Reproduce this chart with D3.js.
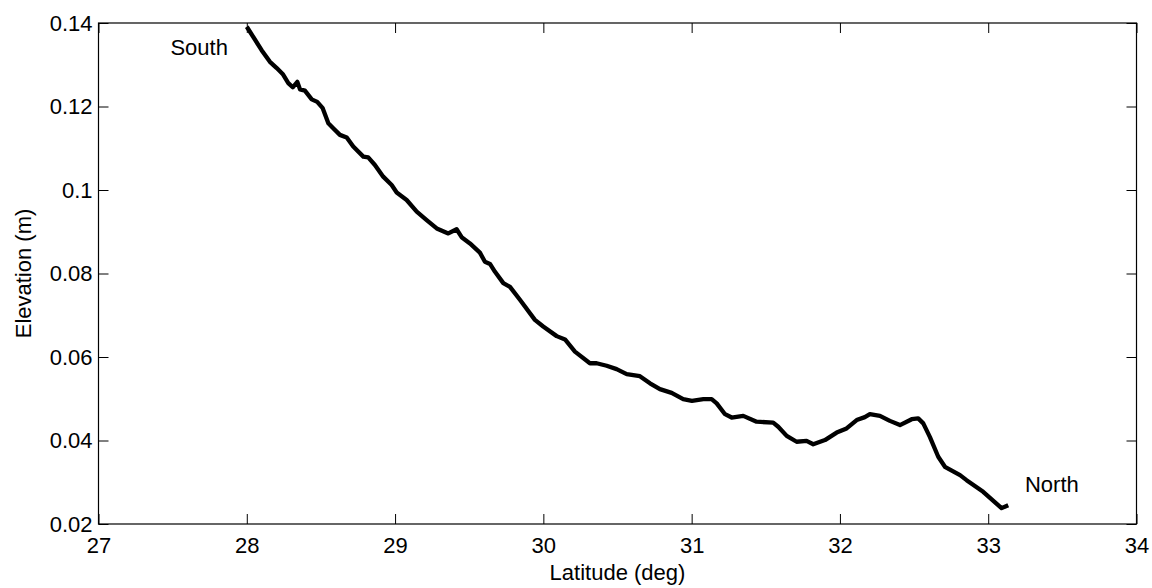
<!DOCTYPE html>
<html>
<head>
<meta charset="utf-8">
<script src="https://cdn.jsdelivr.net/npm/d3@7"></script>
<style>
  body { margin: 0; background: #fff; }
  svg text { font-family: "Liberation Sans", Arial, sans-serif; fill: #000; }
</style>
</head>
<body>
<svg id="chart" width="1152" height="588"></svg>
<script>
(function () {
    // profile: latitude (deg) and elevation (m)
    var lat = [28.0, 28.10, 28.156, 28.202, 28.242, 28.280, 28.310, 28.341, 28.359, 28.392,
        28.438, 28.475, 28.512, 28.550, 28.583, 28.628, 28.674, 28.718, 28.786, 28.819,
        28.864, 28.920, 28.977, 29.011, 29.078, 29.146, 29.213, 29.281, 29.359, 29.415,
        29.449, 29.505, 29.572, 29.606, 29.640, 29.674, 29.730, 29.775, 29.842, 29.943,
        29.999, 30.090, 30.146, 30.213, 30.314, 30.359, 30.427, 30.494, 30.562, 30.651,
        30.719, 30.786, 30.865, 30.943, 31.002, 31.079, 31.135, 31.169, 31.225, 31.270,
        31.348, 31.438, 31.550, 31.584, 31.641, 31.708, 31.775, 31.820, 31.899, 31.978,
        32.045, 32.113, 32.168, 32.202, 32.270, 32.337, 32.405, 32.484, 32.528, 32.562,
        32.607, 32.663, 32.708, 32.810, 32.854, 32.966, 33.090, 33.135];
    var elev = [0.1391, 0.1335, 0.1307, 0.1292, 0.1278, 0.1256, 0.1246, 0.1259, 0.1241, 0.1238,
        0.1217, 0.1211, 0.1196, 0.1160, 0.1148, 0.1132, 0.1126, 0.1104, 0.1080, 0.1078,
        0.1060, 0.1032, 0.1012, 0.0994, 0.0976, 0.0948, 0.0928, 0.0908, 0.0896, 0.0906,
        0.0887, 0.0872, 0.0850, 0.0828, 0.0823, 0.0804, 0.0777, 0.0768, 0.0737, 0.0689,
        0.0673, 0.0650, 0.0642, 0.0613, 0.0585, 0.0585, 0.0579, 0.0571, 0.0559, 0.0554,
        0.0537, 0.0523, 0.0514, 0.0499, 0.0495, 0.0499, 0.0499, 0.0489, 0.0463, 0.0455,
        0.0459, 0.0445, 0.0443, 0.0433, 0.0411, 0.0397, 0.0399, 0.0391, 0.0401, 0.0419,
        0.0429, 0.0449, 0.0456, 0.0463, 0.0459, 0.0447, 0.0437, 0.0451, 0.0453, 0.0441,
        0.0408, 0.0361, 0.0337, 0.0317, 0.0305, 0.0277, 0.0238, 0.0245];

    var xTicks = [27, 28, 29, 30, 31, 32, 33, 34];
    var yTicks = [0.02, 0.04, 0.06, 0.08, 0.1, 0.12, 0.14];
    var yTickLabels = ["0.02", "0.04", "0.06", "0.08", "0.1", "0.12", "0.14"];

    // text labels placed at data coordinates
    var notes = [
        { text: "South", lat: 27.485, elev: 0.1323 },
        { text: "North", lat: 33.248, elev: 0.0277 }
    ];

    var data = lat.map(function (d, i) { return { lat: d, elev: elev[i] }; });

    var left = 98.5, right = 1136.5, top = 23, bottom = 524;
    var fontSize = 22;

    var x = d3.scaleLinear().domain([27, 34]).range([left, right]);
    var y = d3.scaleLinear().domain([0.02, 0.14]).range([bottom, top]);

    var svg = d3.select("#chart");

    var line = d3.line()
        .x(function (d) { return x(d.lat); })
        .y(function (d) { return y(d.elev); });

    svg.append("path")
        .datum(data)
        .attr("fill", "none")
        .attr("stroke", "#000")
        .attr("stroke-width", 4.3)
        .attr("stroke-linejoin", "round")
        .attr("d", line);

    // box with inward ticks on all four sides (matlab style)
    var tickLen = 10;
    svg.append("g")
        .attr("transform", "translate(0," + bottom + ")")
        .call(d3.axisBottom(x).tickValues(xTicks).tickSizeInner(-tickLen).tickSizeOuter(0)
            .tickPadding(13).tickFormat(d3.format("d")))
        .call(function (g) { g.selectAll("text").attr("font-size", fontSize); });

    svg.append("g")
        .attr("transform", "translate(0," + top + ")")
        .call(d3.axisTop(x).tickValues(xTicks).tickSizeInner(-tickLen).tickSizeOuter(0).tickFormat(""));

    svg.append("g")
        .attr("transform", "translate(" + left + ",0)")
        .call(d3.axisLeft(y).tickValues(yTicks).tickSizeInner(-tickLen).tickSizeOuter(0)
            .tickPadding(6)
            .tickFormat(function (d, i) { return yTickLabels[i]; }))
        .call(function (g) { g.selectAll("text").attr("font-size", fontSize); });

    svg.append("g")
        .attr("transform", "translate(" + right + ",0)")
        .call(d3.axisRight(y).tickValues(yTicks).tickSizeInner(-tickLen).tickSizeOuter(0).tickFormat(""));

    svg.selectAll(".domain").remove();
    svg.selectAll(".tick line").attr("stroke", "#000");

    svg.append("rect")
        .attr("x", left).attr("y", top)
        .attr("width", right - left).attr("height", bottom - top)
        .attr("fill", "none").attr("stroke", "#000").attr("stroke-width", 1.2);

    svg.selectAll("g text").attr("font-family", "Liberation Sans, Arial, sans-serif").attr("fill", "#000");

    // axis titles
    svg.append("text")
        .attr("x", (left + right) / 2).attr("y", 580)
        .attr("text-anchor", "middle").attr("font-size", fontSize)
        .text("Latitude (deg)");

    svg.append("text")
        .attr("transform", "translate(31," + (top + bottom) / 2 + ") rotate(-90)")
        .attr("text-anchor", "middle").attr("font-size", fontSize)
        .text("Elevation (m)");

    svg.selectAll(".note")
        .data(notes)
        .join("text")
        .attr("class", "note")
        .attr("x", function (d) { return x(d.lat); })
        .attr("y", function (d) { return y(d.elev); })
        .attr("font-size", fontSize)
        .text(function (d) { return d.text; });
})();
</script>
</body>
</html>
